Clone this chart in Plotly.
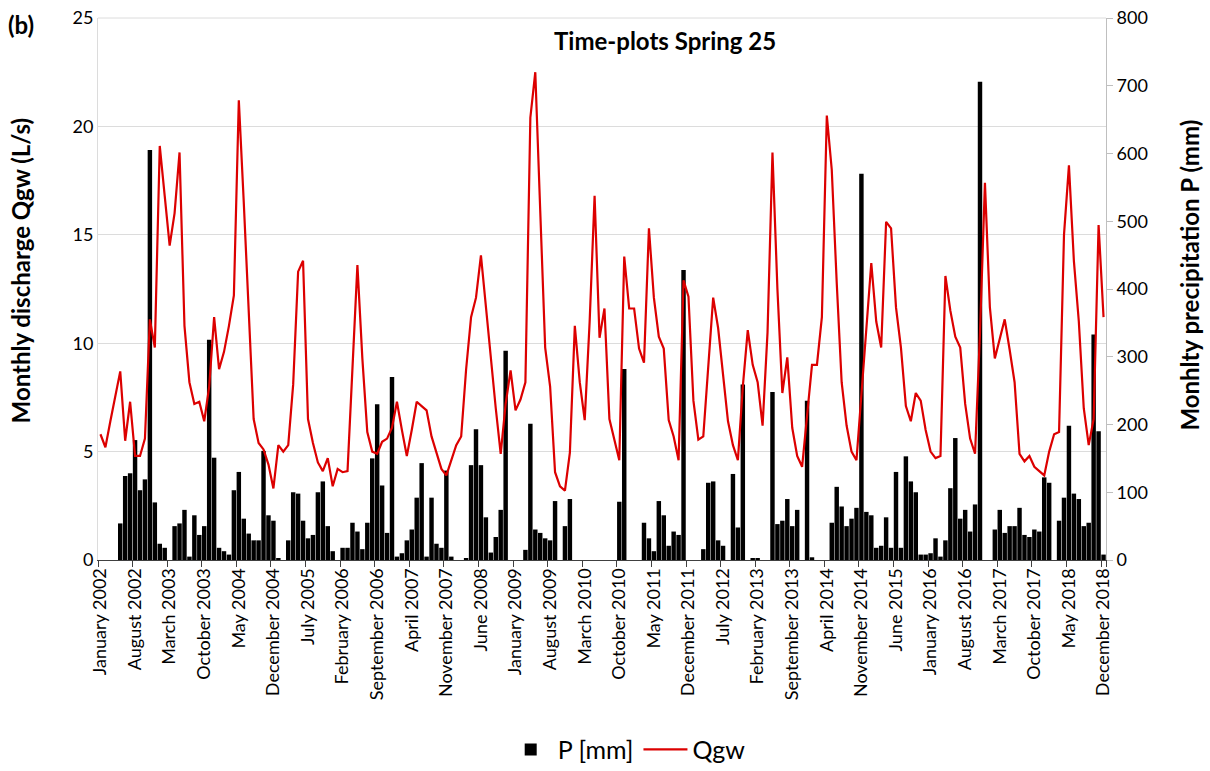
import plotly.graph_objects as go

month_names = ["January", "February", "March", "April", "May", "June", "July",
               "August", "September", "October", "November", "December"]
years = list(range(2002, 2019))
months = [f"{m} {y}" for y in years for m in month_names]

# Monthly discharge Qgw (L/s)
qgw = [
    5.8, 5.2, 6.4, 7.6, 8.7, 5.5, 7.3, 4.8, 4.8, 5.6, 11.1, 9.8,        # 2002
    19.1, 16.8, 14.5, 16.0, 18.8, 10.8, 8.2, 7.2, 7.3, 6.4, 8.0, 11.2,  # 2003
    8.8, 9.6, 10.8, 12.2, 21.2, 16.5, 11.5, 6.5, 5.4, 5.1, 4.4, 3.3,    # 2004
    5.3, 5.0, 5.3, 8.1, 13.3, 13.8, 6.5, 5.4, 4.5, 4.1, 4.7, 3.4,       # 2005
    4.2, 4.05, 4.1, 8.7, 13.6, 9.3, 5.9, 5.0, 4.9, 5.45, 5.6, 6.1,      # 2006
    7.3, 6.0, 4.8, 6.0, 7.3, 7.1, 6.9, 5.7, 4.9, 4.2, 3.9, 4.6,         # 2007
    5.3, 5.7, 8.8, 11.2, 12.1, 14.05, 11.6, 9.3, 7.0, 4.9, 7.2, 8.75,   # 2008
    6.9, 7.4, 8.2, 20.4, 22.5, 16.1, 9.8, 8.0, 4.05, 3.4, 3.2, 4.95,    # 2009
    10.8, 8.2, 6.45, 11.0, 16.8, 10.25, 11.6, 6.5, 5.5, 4.6, 14.0, 11.6,  # 2010
    11.6, 9.75, 9.1, 15.3, 12.1, 10.3, 9.75, 6.45, 5.7, 4.6, 12.9, 12.15, # 2011
    7.35, 5.55, 5.7, 8.8, 12.1, 10.7, 8.7, 6.4, 5.3, 4.6, 8.0, 10.6,    # 2012
    9.0, 8.2, 6.2, 10.5, 18.8, 12.5, 7.7, 9.35, 6.1, 4.8, 4.3, 6.8,     # 2013
    9.0, 9.0, 11.2, 20.5, 18.0, 12.8, 8.2, 6.2, 5.0, 4.6, 7.65, 10.9,   # 2014
    13.7, 11.0, 9.8, 15.6, 15.3, 11.65, 9.8, 7.1, 6.4, 7.7, 7.35, 6.0,  # 2015
    5.0, 4.7, 4.8, 13.1, 11.5, 10.3, 9.8, 7.2, 5.6, 4.9, 10.5, 17.4,    # 2016
    11.65, 9.3, 10.2, 11.1, 9.7, 8.2, 4.9, 4.55, 4.8, 4.3, 4.1, 3.9,    # 2017
    5.0, 5.8, 5.9, 15.0, 18.2, 13.8, 11.0, 7.0, 5.3, 6.5, 15.45, 11.2,  # 2018
]

# Monthly precipitation P (mm)
precip = [
    0, 0, 0, 0, 54, 124, 128, 177, 103, 119, 605, 85,        # 2002
    24, 18, 0, 50, 54, 74, 5, 66, 37, 50, 325, 151,          # 2003
    18, 13, 8, 103, 130, 61, 39, 29, 29, 161, 66, 58,        # 2004
    3, 0, 29, 100, 98, 58, 32, 37, 100, 116, 50, 13,         # 2005
    0, 18, 18, 55, 42, 16, 55, 150, 230, 110, 40, 270,       # 2006
    5, 10, 29, 45, 92, 143, 5, 92, 24, 18, 132, 5,           # 2007
    0, 0, 2, 140, 193, 140, 63, 11, 34, 74, 309, 0,          # 2008
    0, 0, 15, 201, 45, 40, 32, 29, 87, 0, 50, 90,            # 2009
    0, 0, 0, 0, 0, 0, 0, 0, 0, 86, 282, 0,                   # 2010
    0, 0, 55, 32, 13, 87, 66, 21, 42, 37, 428, 0,            # 2011
    0, 0, 16, 114, 116, 29, 21, 0, 127, 48, 259, 0,          # 2012
    2, 2, 0, 0, 248, 53, 58, 90, 50, 74, 0, 235,             # 2013
    4, 0, 0, 0, 55, 108, 79, 50, 61, 77, 570, 71,            # 2014
    66, 18, 21, 63, 18, 130, 18, 153, 116, 100, 8, 8,        # 2015
    10, 32, 5, 29, 106, 180, 61, 74, 42, 82, 706, 0,         # 2016
    0, 45, 74, 40, 50, 50, 77, 37, 34, 45, 42, 122,          # 2017
    114, 0, 58, 92, 198, 98, 90, 50, 55, 333, 190, 8,        # 2018
]

tick_labels = [
    "January 2002", "August 2002", "March 2003", "October 2003", "May 2004",
    "December 2004", "July 2005", "February 2006", "September 2006", "April 2007",
    "November 2007", "June 2008", "January 2009", "August 2009", "March 2010",
    "October 2010", "May 2011", "December 2011", "July 2012", "February 2013",
    "September 2013", "April 2014", "November 2014", "June 2015", "January 2016",
    "August 2016", "March 2017", "October 2017", "May 2018", "December 2018",
]

idx = list(range(len(months)))
tick_pos = [months.index(t) for t in tick_labels]
FONT = "Lato"
RED = "#dc0000"

fig = go.Figure()
fig.add_trace(go.Bar(x=idx, y=precip, name="P [mm]", marker=dict(color="black", line=dict(width=0)),
                     yaxis="y", customdata=months))
fig.add_trace(go.Scatter(x=idx, y=qgw, name="Qgw", mode="lines",
                         line=dict(color=RED, width=2.2), yaxis="y2", customdata=months))

fig.update_layout(
    width=1210, height=771,
    margin=dict(l=98, r=104, t=18, b=211, autoexpand=False),
    paper_bgcolor="white", plot_bgcolor="white",
    font=dict(family=FONT, color="#000000"),
    bargap=0.1,
    showlegend=True,
    legend=dict(orientation="h", x=0.525, xanchor="center", y=-0.35, yanchor="middle",
                font=dict(size=25, family=FONT), itemwidth=44, traceorder="normal",
                tracegroupgap=0),
    xaxis=dict(
        range=[-0.5, len(months) - 0.5], automargin=False,
        tickmode="array", tickvals=tick_pos, ticktext=tick_labels,
        tickangle=-90, tickfont=dict(size=18, family=FONT),
        ticks="", showgrid=False, zeroline=False,
        showline=True, linecolor="#404040", linewidth=1,
        minor=dict(tickmode="array", tickvals=[p - 0.5 for p in tick_pos] + [len(months) - 0.5],
                   ticks="outside", ticklen=6, tickcolor="#404040", showgrid=False),
    ),
    yaxis=dict(
        side="right", range=[0, 800], dtick=100, tick0=0, automargin=False,
        showgrid=False, zeroline=False,
        showline=True, linecolor="#bfbfbf", linewidth=1,
        ticks="outside", ticklen=6, tickcolor="#bfbfbf",
        tickfont=dict(size=18, family=FONT),
    ),
    yaxis2=dict(
        overlaying="y", side="left", range=[0, 25], dtick=5, tick0=0, automargin=False,
        showgrid=True, gridcolor="#dcdcdc", gridwidth=1, zeroline=False,
        showline=True, linecolor="#dcdcdc", linewidth=1,
        ticks="", tickfont=dict(size=18, family=FONT),
    ),
    shapes=[dict(type="line", xref="paper", yref="paper", x0=0, x1=1, y0=1, y1=1,
                 line=dict(color="#dcdcdc", width=1))],
    annotations=[
        dict(text="<b>(b)</b>", xref="paper", yref="paper", x=-0.091, y=0.988,
             xanchor="left", yanchor="middle", showarrow=False, font=dict(size=24, family=FONT)),
        dict(text="<b>Time-plots Spring 25</b>", xref="paper", yref="paper", x=0.5625, y=0.958,
             xanchor="center", yanchor="middle", showarrow=False, font=dict(size=24, family=FONT)),
        dict(text="<b>Monthly discharge Qgw (L/s)</b>", xref="paper", yref="paper", x=-0.077, y=0.535,
             xanchor="center", yanchor="middle", textangle=-90, showarrow=False,
             font=dict(size=24, family=FONT)),
        dict(text="<b>Monhlty precipitation P (mm)</b>", xref="paper", yref="paper", x=1.083, y=0.526,
             xanchor="center", yanchor="middle", textangle=-90, showarrow=False,
             font=dict(size=24, family=FONT)),
    ],
)

fig.write_html("out.html")
